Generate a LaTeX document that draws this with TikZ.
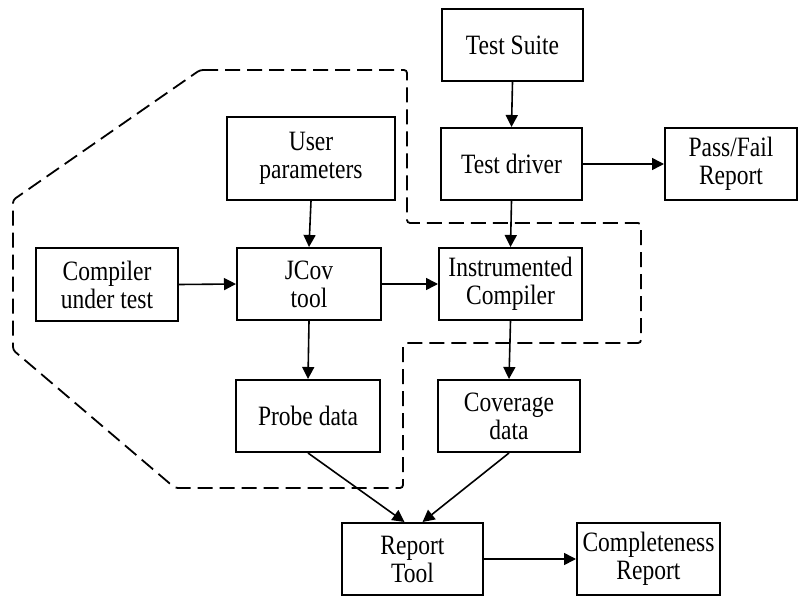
\documentclass[tikz,border=0pt]{standalone}
\usepackage{fontspec}
\setmainfont{Liberation Serif}[FakeStretch=0.84]
\usetikzlibrary{arrows.meta,calc}
\begin{document}
\begin{tikzpicture}[x=1pt,y=-1pt,
  box/.style={draw=black,line width=2pt,rectangle,align=center,inner sep=0pt,
    font=\fontsize{28}{28}\selectfont},
  conn/.style={line width=1.6pt,-{Triangle[length=12pt,width=12pt]}},
  dashbound/.style={line width=1.8pt,dash pattern=on 15pt off 7pt,rounded corners=3pt}]
\useasboundingbox (0,0) rectangle (798,596);
\fill[white] (0,0) rectangle (798,596);

\node[box,minimum width=141pt,minimum height=72pt] (suite) at (512.5,45) {Test Suite};
\node[box,minimum width=141pt,minimum height=72pt] (driver) at (511.5,164) {Test driver};
\node[box,minimum width=132pt,minimum height=72pt] (passfail) at (731,164) {Pass/Fail\\Report};
\node[box,minimum width=168pt,minimum height=83pt] (userp) at (311,158.5) {User\\parameters};
\node[box,minimum width=142pt,minimum height=72pt] (compiler) at (107,284.5) {Compiler\\under test};
\node[box,minimum width=144pt,minimum height=72pt] (jcov) at (309,284) {JCov\\tool};
\node[box,minimum width=143pt,minimum height=72pt] (instr) at (510.5,284) {Instrumented\\Compiler};
\node[box,minimum width=144pt,minimum height=72pt] (probe) at (308,416) {Probe data};
\node[box,minimum width=142pt,minimum height=72pt] (coverage) at (509,416) {Coverage\\data};
\node[box,minimum width=141pt,minimum height=72pt] (report) at (412.5,559) {Report\\Tool};
\node[box,minimum width=143pt,minimum height=72pt] (complete) at (648.5,559) {Completeness\\Report};

\draw[conn] (suite.south) -- (driver.north);
\draw[conn] (driver.east) -- (passfail.west);
\draw[conn] (driver.south) -- (instr.north);
\draw[conn] (userp.south) -- (jcov.north);
\draw[conn] (compiler.east) -- (jcov.west);
\draw[conn] (jcov.east) -- (instr.west);
\draw[conn] (jcov.south) -- (probe.north);
\draw[conn] (instr.south) -- (coverage.north);
\draw[conn] (probe.south) -- ([xshift=-8pt]report.north);
\draw[conn] (coverage.south) -- ([xshift=10pt]report.north);
\draw[conn] (report.east) -- (complete.west);

\draw[dashbound] (200,70) -- (407,70) -- (407,223) -- (641,223) -- (641,343)
  -- (403,343) -- (403,488) -- (175,488) -- (13,350) -- (13,200) -- cycle;
\end{tikzpicture}
\end{document}
